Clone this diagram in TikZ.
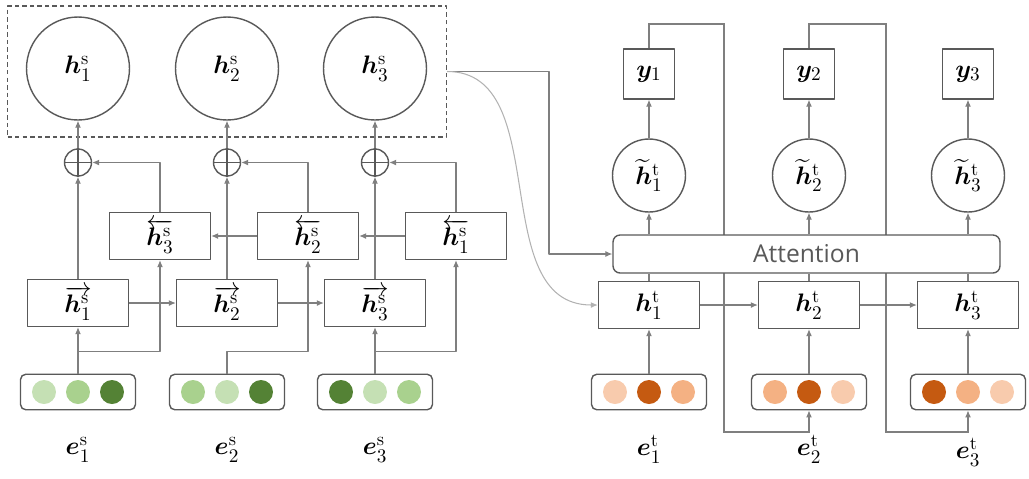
\documentclass[tikz,border=0pt]{standalone}
\usepackage{amsmath}
\usepackage{amssymb}
\usepackage{bm}
\usepackage{fontspec}
\newfontfamily\attfont{Open Sans}
\usepackage{tikz}
\usetikzlibrary{arrows.meta}
\usetikzlibrary{shapes, backgrounds}

\definecolor{gLight}{HTML}{C5E0B4}
\definecolor{gMid}{HTML}{A9D18E}
\definecolor{gDark}{HTML}{548235}
\definecolor{oLight}{HTML}{F8CBAD}
\definecolor{oMid}{HTML}{F4B183}
\definecolor{oDark}{HTML}{C55A11}
\definecolor{lineGray}{HTML}{7F7F7F}
\definecolor{boxGray}{HTML}{595959}

\begin{document}
\begin{tikzpicture}[>={Latex[length=4pt,width=3.4pt]},line join=bevel,x=0.02cm,y=-0.02cm,
  every node/.style={font=\fontsize{15}{18}\selectfont},
  cellbox/.style={draw=boxGray,line width=0.8pt,fill=white,minimum width=2.02cm,minimum height=0.94cm,inner sep=0pt},
  embbox/.style={draw=boxGray,line width=0.8pt,rounded corners=3pt,minimum width=2.3cm,minimum height=0.71cm,inner sep=0pt},
  outbox/.style={draw=boxGray,line width=0.8pt,fill=white,minimum width=1.02cm,minimum height=1.0cm,inner sep=0pt},
  bigcirc/.style={draw=boxGray,line width=0.8pt,circle,minimum size=2.06cm,inner sep=0pt},
  ctxcirc/.style={draw=boxGray,line width=0.8pt,circle,fill=white,minimum size=1.46cm,inner sep=0pt},
  opl/.style={draw=boxGray,line width=0.8pt,circle,fill=white,minimum size=0.54cm,inner sep=0pt},
  encbox/.style={draw=boxGray,line width=0.8pt,dash pattern=on 2.5pt off 1.8pt,minimum width=8.78cm,minimum height=2.62cm,inner sep=0pt},
  attbox/.style={draw=boxGray,line width=0.8pt,fill=white,rounded corners=4pt,minimum width=7.74cm,minimum height=0.76cm,inner sep=0pt,
    font=\attfont\fontsize{14}{16}\selectfont,text=boxGray},
  lnk/.style={draw=lineGray,line width=0.6pt},
  curv/.style={draw=lineGray!60,line width=0.6pt},
]
\useasboundingbox (0,0) rectangle (1029,478);
%%
\node (node_enc) at (227,71.5) [encbox] {};
  \node (node_hs1) at (78,68.5) [bigcirc] {$\bm{h}^{\mathrm{s}}_{1}$};
  \node (node_hs2) at (227,68.5) [bigcirc] {$\bm{h}^{\mathrm{s}}_{2}$};
  \node (node_hs3) at (375,68.5) [bigcirc] {$\bm{h}^{\mathrm{s}}_{3}$};
  \node (node_op1) at (78,162.5) [opl] {};
  \node (node_op2) at (227,162.5) [opl] {};
  \node (node_op3) at (375,162.5) [opl] {};
  \node (node_bh3) at (160,236) [cellbox] {$\overleftarrow{\bm{h}^{\mathrm{s}}_{3}}$};
  \node (node_bh2) at (308,236) [cellbox] {$\overleftarrow{\bm{h}^{\mathrm{s}}_{2}}$};
  \node (node_bh1) at (456,236) [cellbox] {$\overleftarrow{\bm{h}^{\mathrm{s}}_{1}}$};
  \node (node_fh1) at (78,303) [cellbox] {$\overrightarrow{\bm{h}^{\mathrm{s}}_{1}}$};
  \node (node_fh2) at (227,303) [cellbox] {$\overrightarrow{\bm{h}^{\mathrm{s}}_{2}}$};
  \node (node_fh3) at (375,303) [cellbox] {$\overrightarrow{\bm{h}^{\mathrm{s}}_{3}}$};
  \node (node_es1) at (78,392) [embbox] {};
  \node (node_es2) at (227,392) [embbox] {};
  \node (node_es3) at (375,392) [embbox] {};
  \node (node_ls1) at (78,450) {$\bm{e}^{\mathrm{s}}_{1}$};
  \node (node_ls2) at (227,450) {$\bm{e}^{\mathrm{s}}_{2}$};
  \node (node_ls3) at (375,450) {$\bm{e}^{\mathrm{s}}_{3}$};
%%
  \node (node_y1) at (649,74) [outbox] {$\bm{y}_{1}$};
  \node (node_y2) at (809,74) [outbox] {$\bm{y}_{2}$};
  \node (node_y3) at (968,74) [outbox] {$\bm{y}_{3}$};
  \node (node_ct1) at (649,175.5) [ctxcirc] {$\widetilde{\bm{h}}^{\mathrm{t}}_{1}$};
  \node (node_ct2) at (809,175.5) [ctxcirc] {$\widetilde{\bm{h}}^{\mathrm{t}}_{2}$};
  \node (node_ct3) at (968,175.5) [ctxcirc] {$\widetilde{\bm{h}}^{\mathrm{t}}_{3}$};
  \node (node_att) at (806.5,254) [attbox] {Attention};
  \node (node_ht1) at (649,305) [cellbox] {$\bm{h}^{\mathrm{t}}_{1}$};
  \node (node_ht2) at (809,305) [cellbox] {$\bm{h}^{\mathrm{t}}_{2}$};
  \node (node_ht3) at (968,305) [cellbox] {$\bm{h}^{\mathrm{t}}_{3}$};
  \node (node_et1) at (649,392) [embbox] {};
  \node (node_et2) at (809,392) [embbox] {};
  \node (node_et3) at (968,392) [embbox] {};
  \node (node_lt1) at (649,449) {$\bm{e}^{\mathrm{t}}_{1}$};
  \node (node_lt2) at (809,449) {$\bm{e}^{\mathrm{t}}_{2}$};
  \node (node_lt3) at (968,452) {$\bm{e}^{\mathrm{t}}_{3}$};
  \coordinate (c_bend) at (549,254);
%%
  \foreach \cx/\ca/\cb/\cc in {78/gLight/gMid/gDark, 227/gMid/gLight/gDark, 375/gDark/gLight/gMid,
      649/oLight/oDark/oMid, 809/oMid/oDark/oLight, 968/oDark/oMid/oLight} {
    \fill [\ca] (\cx-34,392) circle (0.24cm);
    \fill [\cb] (\cx,392) circle (0.24cm);
    \fill [\cc] (\cx+34,392) circle (0.24cm);
  }
  \foreach \i in {1,2,3} {
    \draw [draw=boxGray,line width=0.8pt] (node_op\i.north) -- (node_op\i.south) (node_op\i.west) -- (node_op\i.east);
    \draw [lnk,->] (node_op\i) -- (node_hs\i);
    \draw [lnk,->] (node_fh\i) -- (node_op\i);
  }
  \draw [lnk,->] (node_bh3.north) |- (node_op1.east);
  \draw [lnk,->] (node_bh2.north) |- (node_op2.east);
  \draw [lnk,->] (node_bh1.north) |- (node_op3.east);
  \draw [lnk,->] (node_es1) -- (node_fh1);
  \draw [lnk,->] (node_es3) -- (node_fh3);
  \draw [lnk,->] (node_es1.north) -- ++(0,-22) -| (node_bh3.south);
  \draw [lnk,->] (node_es2.north) -- ++(0,-22) -| (node_bh2.south);
  \draw [lnk,->] (node_es3.north) -- ++(0,-22) -| (node_bh1.south);
  \draw [lnk,->] (node_fh1) -- (node_fh2);
  \draw [lnk,->] (node_fh2) -- (node_fh3);
  \draw [lnk,->] (node_bh1) -- (node_bh2);
  \draw [lnk,->] (node_bh2) -- (node_bh3);
%%
  \draw [lnk,->] (node_enc.east) -| (c_bend) -- (node_att.west);
  \draw [curv,->] (node_enc.east) ..controls (555,71.5) and (485,305) .. (node_ht1.west);
  \foreach \i in {1,2,3} {
    \draw [lnk,->] (node_et\i) -- (node_ht\i);
    \draw [lnk] (node_ht\i) -- (node_ht\i.north |- node_att.south);
    \draw [lnk,->] (node_ht\i.north |- node_att.north) -- (node_ct\i);
    \draw [lnk,->] (node_ct\i) -- (node_y\i);
  }
  \draw [lnk,->] (node_ht1) -- (node_ht2);
  \draw [lnk,->] (node_ht2) -- (node_ht3);
  \begin{pgfonlayer}{background}
    \draw [lnk,->] (node_y1.north) |- (724,24) |- (809,432) -- (node_et2.south);
    \draw [lnk,->] (node_y2.north) |- (886,24) |- (968,432) -- (node_et3.south);
  \end{pgfonlayer}
%
\end{tikzpicture}
\end{document}
